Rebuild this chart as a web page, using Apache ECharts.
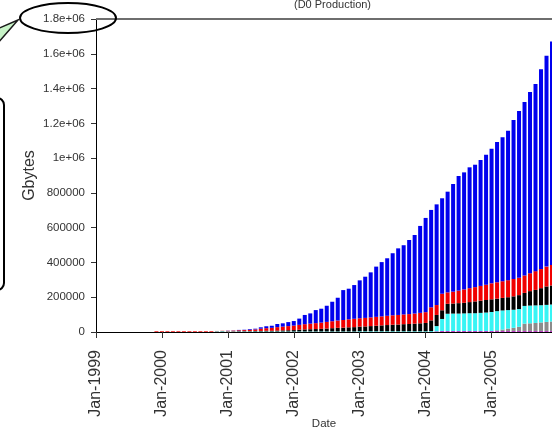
<!DOCTYPE html>
<html>
<head>
<meta charset="utf-8">
<script src="https://cdn.jsdelivr.net/npm/echarts@6/dist/echarts.min.js"></script>
<style>
html,body{margin:0;padding:0;background:#fff;}
#chart{width:552px;height:430px;}
</style>
</head>
<body>
<div id="chart"></div>
<script>
// Month labels Jan-1999 ... Dec-2005
const monthNames = ['Jan','Feb','Mar','Apr','May','Jun','Jul','Aug','Sep','Oct','Nov','Dec'];
const years = [1999, 2000, 2001, 2002, 2003, 2004, 2005];
const categories = [];
years.forEach(y => monthNames.forEach(m => categories.push(m + '-' + y)));

const yTickLabels = ['0','200000','400000','600000','800000','1e+06','1.2e+06','1.4e+06','1.6e+06','1.8e+06'];

// Values in thousands of Gbytes, one per month (stack order bottom -> top)
const magentaK = [0,0,0,0,0,0,0,0,0,0,0,0, 0,0,0,0,0,0,0,0,0,0,0,0, 0,0,0,0,0,0,0,0,0,0,0,0, 0,0,0,0,0,0,0,0,0,0,0,0, 0,0,0,0,0,0,0,0,0,0,0,0,
  0,0,4,6,6,6,6,6,6,6,6,6, 6,6,6,6,6,6,6,6,6,6,6,6];
const grayK = [0,0,0,0,0,0,0,0,0,0,0,0, 0,0,0,0,0,0,0,0,0,0,0,0, 0,0,0,0,0,0,0,0,0,0,0,0, 0,0,0,0,0,0,0,0,0,0,0,0, 0,0,0,0,0,0,0,0,0,0,0,0,
  0,0,0,0,0,0,0,0,0,0,0,0, 0,4,8,14,18,24,42,44,46,49,52,54];
const cyanK = [0,0,0,0,0,0,0,0,0,0,0,0, 0,0,0,0,0,0,0,0,0,0,4,4, 3,3,3,3,3,3,3,3,3,3,3,3, 3,3,3,3,3,3,3,3,3,3,3,3, 4,4,4,4,4,4,4,4,4,4,4,4,
  4,5,30,69,99,100,100,101,102,102,104,106, 109,110,110,106,104,102,102,102,101,99,98,98];
const blackK = [0,0,0,0,0,0,0,0,0,0,0,0, 0,0,0,0,0,0,0,0,0,0,0,1, 1,1,2,2,2,3,3,4,4,5,6,7, 8,10,12,13,14,15,17,19,21,22,24,25, 27,28,30,32,34,36,38,39,41,42,44,46,
  48,62,64,50,57,58,60,61,64,68,70,72, 73,72,72,74,77,80,75,83,89,98,106,110];
const redK = [0,0,0,0,0,0,0,0,0,0,0,4, 4,4,4,4,4,4,4,4,4,4,2,2, 3,4,5,6,8,9,13,15,17,20,22,24, 26,28,30,32,34,36,38,40,42,44,46,48, 48,49,50,51,52,53,54,55,56,57,58,60,
  62,75,57,95,66,68,72,77,80,82,85,88, 92,94,96,98,100,100,100,103,108,110,114,117];
const blueK = [0,0,0,0,0,0,0,0,0,0,0,0, 0,0,0,0,0,0,0,0,0,0,0,0, 1,1,2,2,4,4,8,11,12,18,19,23, 26,36,53,59,75,80,93,112,131,172,176,194, 218,237,259,289,312,331,357,383,398,426,452,500,
  542,560,579,549,579,619,659,673,695,704,724,748, 774,807,828,860,914,959,998,1042,1076,1149,1213,1285];

const UNIT = 1000; // arrays are in thousands of Gbytes

const layers = [
  {name: 'magenta', data: magentaK, color: '#c040c8'},
  {name: 'gray',    data: grayK,    color: '#8c8c8c'},
  {name: 'cyan',    data: cyanK,    color: '#38f4f4'},
  {name: 'black',   data: blackK,   color: '#000000'},
  {name: 'red',     data: redK,     color: '#f00000'},
  {name: 'blue',    data: blueK,    color: '#0000ee'}
];

const sans = '"Liberation Sans", Arial, sans-serif';

const chart = echarts.init(document.getElementById('chart'), null, {renderer: 'canvas'});

const series = layers.map((l, idx) => {
  const s = {
    name: l.name,
    type: 'bar',
    stack: 'total',
    barWidth: 4,
    data: l.data.map(v => v * UNIT),
    itemStyle: {color: l.color},
    silent: true
  };
  if (idx === layers.length - 1) {
    s.markLine = {
      silent: true,
      symbol: 'none',
      label: {show: false},
      lineStyle: {color: '#6e6e6e', width: 2, type: 'solid'},
      data: [{yAxis: 1800000}]
    };
  }
  return s;
});

chart.setOption({
  animation: false,
  backgroundColor: '#ffffff',
  title: {
    text: '(D0 Production)',
    left: 289,
    top: -6,
    textStyle: {fontFamily: sans, fontSize: 11, fontWeight: 'normal', color: '#333'}
  },
  grid: {left: 96, right: 0, top: 19, bottom: 98, containLabel: false, outerBoundsMode: 'none'},
  xAxis: {
    type: 'category',
    data: categories,
    boundaryGap: false,
    name: 'Date',
    nameLocation: 'middle',
    nameGap: 86,
    nameMoveOverlap: false,
    nameTextStyle: {fontFamily: sans, fontSize: 11.5, color: '#333'},
    axisLine: {show: true, lineStyle: {color: '#000', width: 1}},
    axisTick: {show: true, interval: 11, length: 6, lineStyle: {color: '#333'}},
    axisLabel: {interval: 11, rotate: 90, margin: 18, fontFamily: sans, fontSize: 16, color: '#333'},
    splitLine: {show: false}
  },
  yAxis: {
    type: 'value',
    min: 0,
    max: 1800000,
    interval: 200000,
    name: 'Gbytes',
    nameLocation: 'middle',
    nameRotate: 90,
    nameGap: 58,
    nameMoveOverlap: false,
    nameTextStyle: {fontFamily: sans, fontSize: 16, color: '#333'},
    axisLine: {show: true, lineStyle: {color: '#000', width: 1}},
    axisTick: {show: true, length: 5, lineStyle: {color: '#333'}},
    axisLabel: {
      margin: 11,
      fontFamily: sans,
      fontSize: 11.5,
      color: '#333',
      formatter: v => yTickLabels[Math.round(v / 200000)]
    },
    splitLine: {show: false}
  },
  graphic: [
    {
      type: 'ellipse',
      shape: {cx: 68, cy: 18, rx: 48, ry: 15},
      style: {fill: 'none', stroke: '#000', lineWidth: 2},
      z: 100
    },
    {
      type: 'polygon',
      shape: {points: [[18, 20], [-3, 29], [-3, 44]]},
      style: {fill: '#c8f4c8', stroke: '#1a1a1a', lineWidth: 1.5},
      z: 100
    },
    {
      type: 'rect',
      shape: {x: -30, y: 98, width: 34, height: 192, r: 7},
      style: {fill: 'none', stroke: '#000', lineWidth: 2},
      z: 100
    }
  ],
  series: series
});
</script>
</body>
</html>
